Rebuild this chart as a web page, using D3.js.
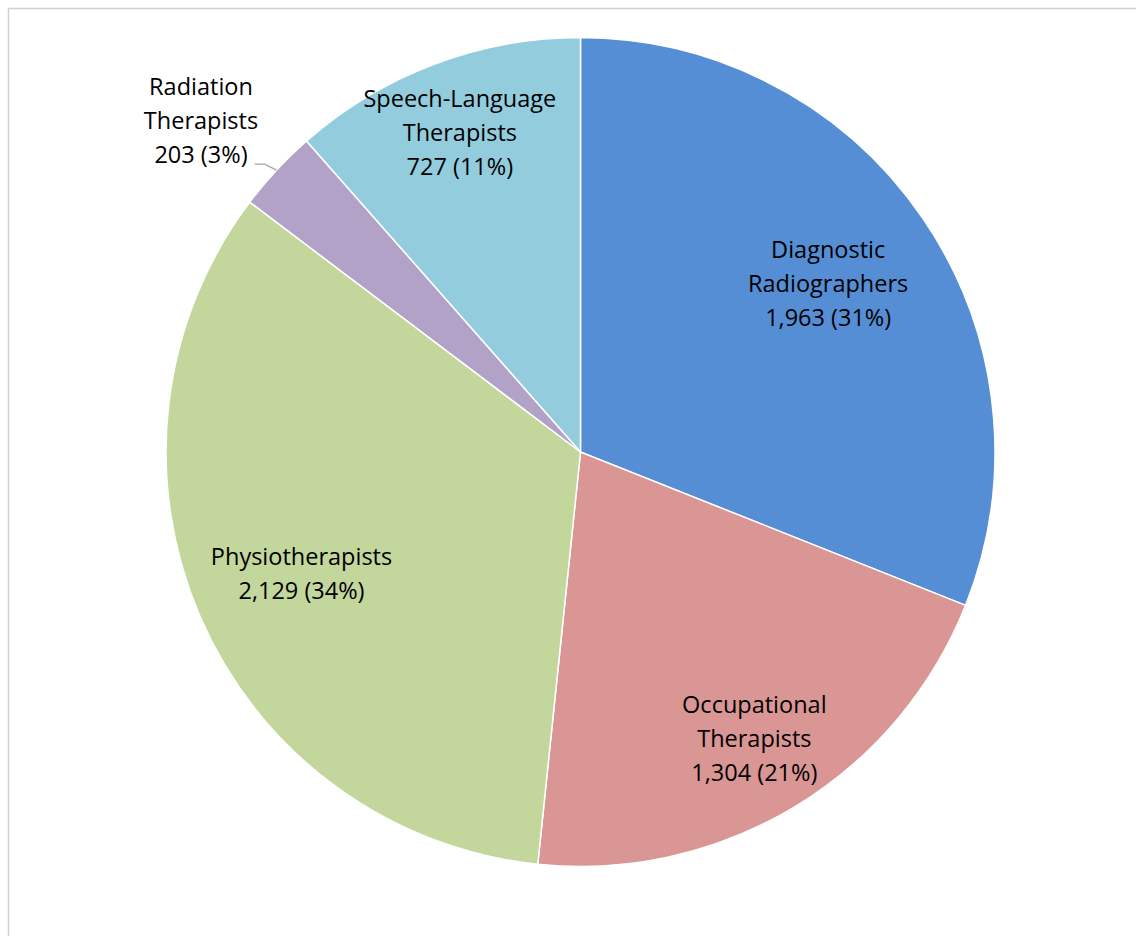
<!DOCTYPE html>
<html>
<head>
<meta charset="utf-8">
<script src="https://cdn.jsdelivr.net/npm/d3@7"></script>
<style>
  html, body { margin: 0; padding: 0; background: #fff; }
  svg { display: block; }
  text { font-family: "Open Sans", "Noto Sans", sans-serif; font-size: 23.5px; fill: #000; }
</style>
</head>
<body>
<svg id="chart" width="1136" height="936"></svg>
<script>
const categories = ["Diagnostic Radiographers", "Occupational Therapists", "Physiotherapists", "Radiation Therapists", "Speech-Language Therapists"];
const labelLines = [["Diagnostic", "Radiographers"], ["Occupational", "Therapists"], ["Physiotherapists"], ["Radiation", "Therapists"], ["Speech-Language", "Therapists"]];
const values = [1963, 1304, 2129, 203, 727];
const percentLabels = ["31%", "21%", "34%", "3%", "11%"];
const colors = ["#558ED5", "#D99694", "#C3D69B", "#B3A2C7", "#93CDDD"];

const svg = d3.select("#chart");
const W = 1136, H = 936;
const cx = 580.5, cy = 452, R = 414.5;

// chart area border (bottom and right edges fall outside the canvas)
svg.append("rect").attr("x", 8.5).attr("y", 8.5).attr("width", W + 10).attr("height", H + 10)
  .attr("fill", "none").attr("stroke", "#d0d0d0").attr("stroke-width", 1.5);

const data = categories.map((c, i) => ({ name: c, lines: labelLines[i], value: values[i], pct: percentLabels[i], color: colors[i], i }));

const pie = d3.pie().value(d => d.value).sort(null);
const arcs = pie(data);
const arc = d3.arc().innerRadius(0).outerRadius(R);

const g = svg.append("g").attr("transform", `translate(${cx},${cy})`);

g.selectAll("path.slice").data(arcs).join("path")
  .attr("class", "slice")
  .attr("d", arc)
  .attr("fill", d => d.data.color)
  .attr("stroke", "#fff")
  .attr("stroke-width", 1.5);

// label radii (fraction of R) per slice; null => outside with leader
const labelRadius = [0.722, 0.81, 0.734, null, 0.824];
const fmt = d3.format(",");
const lineH = 34;

arcs.forEach((a, k) => {
  const lines = a.data.lines.concat([`${fmt(a.data.value)} (${a.data.pct})`]);
  const mid = (a.startAngle + a.endAngle) / 2;
  let x, y;
  if (labelRadius[k] !== null) {
    const r = labelRadius[k] * R;
    x = Math.sin(mid) * r;
    y = -Math.cos(mid) * r;
  } else {
    // outside label with leader line
    const ex = Math.sin(mid) * R, ey = -Math.cos(mid) * R;
    const kx = ex - 12, ky = ey - 6;
    const lx = kx - 10;
    g.append("polyline")
      .attr("points", [[ex, ey], [kx, ky], [lx, ky]].map(p => p.join(",")).join(" "))
      .attr("fill", "none").attr("stroke", "#a6a6a6").attr("stroke-width", 1.3);
    x = 201 - cx;
    y = 121 - cy;
  }
  const t = g.append("text").attr("text-anchor", "middle");
  const n = lines.length;
  lines.forEach((ln, j) => {
    t.append("tspan").attr("x", x).attr("y", y + (j - (n - 1) / 2) * lineH).attr("dy", "0.35em").text(ln);
  });
});
</script>
</body>
</html>
